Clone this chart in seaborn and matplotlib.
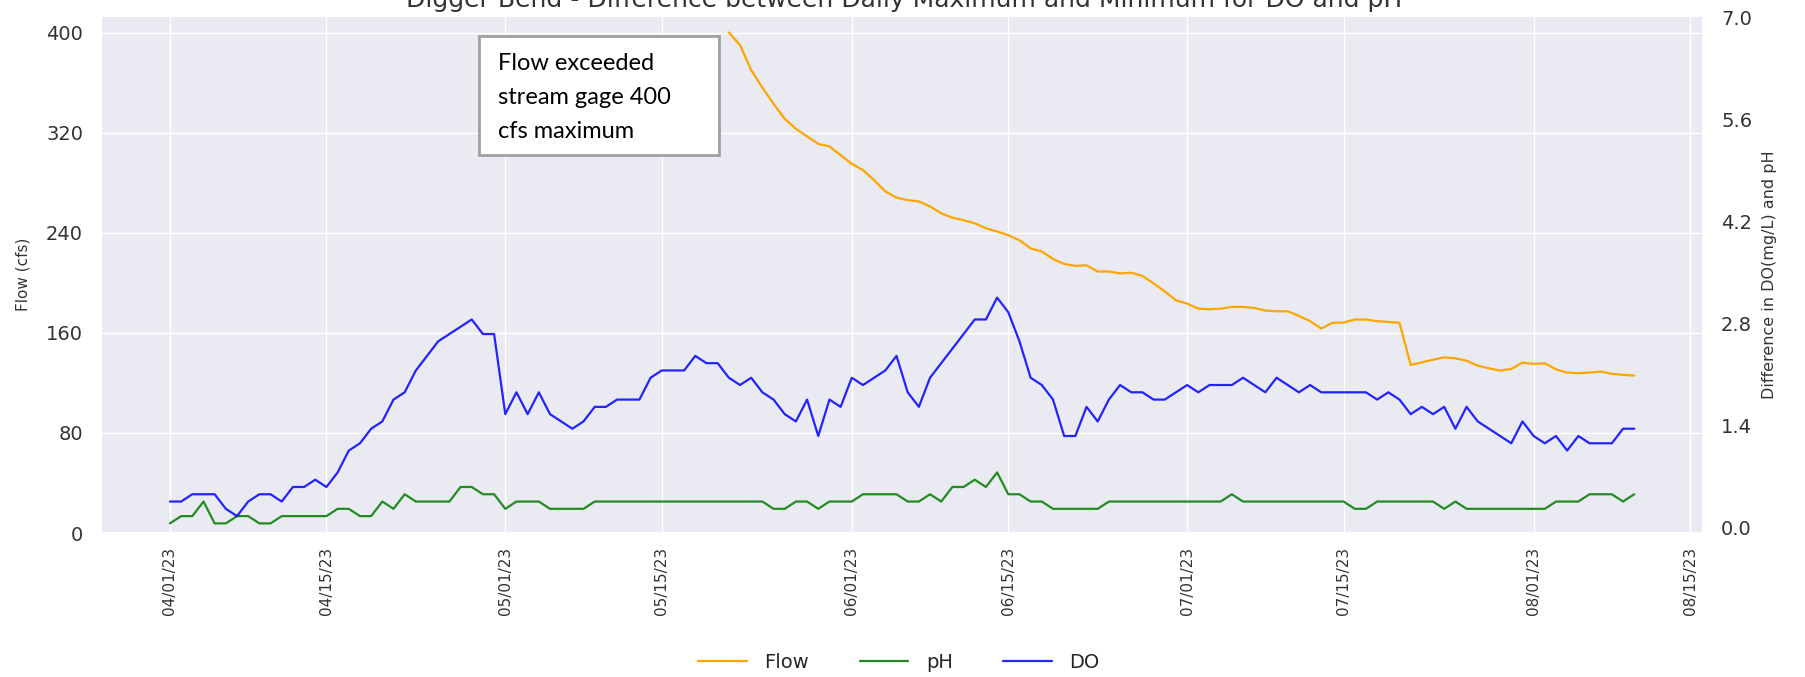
import numpy as np
import pandas as pd
import matplotlib
matplotlib.use("Agg")
import matplotlib.pyplot as plt
import matplotlib.dates as mdates
from matplotlib.patches import Rectangle
import seaborn as sns

# daily record, 04/01/23 .. 08/10/23
start_date = "2023-04-01"
n_days = 132

# flow was above the 400 cfs gage maximum for the first 50 days
flow_missing_days = 50
flow_cfs = [400, 390, 370, 356, 343, 331, 323, 317, 311, 309,
            302, 295, 290, 282, 273, 268, 266, 265, 261, 255.5,
            252, 250, 247.5, 243.5, 241, 238, 234, 227.5, 225, 219,
            215, 213.5, 214, 209, 209, 207.5, 208, 205.5, 199.5, 193,
            186, 183.3, 179.3, 178.8, 179.3, 180.7, 180.7, 179.9, 177.8, 177.2,
            177.2, 173.5, 169.3, 163.4, 168, 168.2, 170.6, 170.6, 169.3, 168.7,
            168, 134.3, 136.4, 138.5, 140.4, 139.6, 137.7, 133.8, 131.6, 129.8,
            131.1, 136.2, 135.1, 135.6, 130.8, 128.2, 127.7, 128.2, 129, 127.2,
            126.4, 125.8]

ph_diff = [0.05, 0.15, 0.15, 0.35, 0.05, 0.05, 0.15, 0.15, 0.05, 0.05,
           0.15, 0.15, 0.15, 0.15, 0.15, 0.25, 0.25, 0.15, 0.15, 0.35,
           0.25, 0.45, 0.35, 0.35, 0.35, 0.35, 0.55, 0.55, 0.45, 0.45,
           0.25, 0.35, 0.35, 0.35, 0.25, 0.25, 0.25, 0.25, 0.35, 0.35,
           0.35, 0.35, 0.35, 0.35, 0.35, 0.35, 0.35, 0.35, 0.35, 0.35,
           0.35, 0.35, 0.35, 0.35, 0.25, 0.25, 0.35, 0.35, 0.25, 0.35,
           0.35, 0.35, 0.45, 0.45, 0.45, 0.45, 0.35, 0.35, 0.45, 0.35,
           0.55, 0.55, 0.65, 0.55, 0.75, 0.45, 0.45, 0.35, 0.35, 0.25,
           0.25, 0.25, 0.25, 0.25, 0.35, 0.35, 0.35, 0.35, 0.35, 0.35,
           0.35, 0.35, 0.35, 0.35, 0.35, 0.45, 0.35, 0.35, 0.35, 0.35,
           0.35, 0.35, 0.35, 0.35, 0.35, 0.35, 0.25, 0.25, 0.35, 0.35,
           0.35, 0.35, 0.35, 0.35, 0.25, 0.35, 0.25, 0.25, 0.25, 0.25,
           0.25, 0.25, 0.25, 0.25, 0.35, 0.35, 0.35, 0.45, 0.45, 0.45,
           0.35, 0.45]

do_diff = [0.35, 0.35, 0.45, 0.45, 0.45, 0.25, 0.15, 0.35, 0.45, 0.45,
           0.35, 0.55, 0.55, 0.65, 0.55, 0.75, 1.05, 1.15, 1.35, 1.45,
           1.75, 1.85, 2.15, 2.35, 2.55, 2.65, 2.75, 2.85, 2.65, 2.65,
           1.55, 1.85, 1.55, 1.85, 1.55, 1.45, 1.35, 1.45, 1.65, 1.65,
           1.75, 1.75, 1.75, 2.05, 2.15, 2.15, 2.15, 2.35, 2.25, 2.25,
           2.05, 1.95, 2.05, 1.85, 1.75, 1.55, 1.45, 1.75, 1.25, 1.75,
           1.65, 2.05, 1.95, 2.05, 2.15, 2.35, 1.85, 1.65, 2.05, 2.25,
           2.45, 2.65, 2.85, 2.85, 3.15, 2.95, 2.55, 2.05, 1.95, 1.75,
           1.25, 1.25, 1.65, 1.45, 1.75, 1.95, 1.85, 1.85, 1.75, 1.75,
           1.85, 1.95, 1.85, 1.95, 1.95, 1.95, 2.05, 1.95, 1.85, 2.05,
           1.95, 1.85, 1.95, 1.85, 1.85, 1.85, 1.85, 1.85, 1.75, 1.85,
           1.75, 1.55, 1.65, 1.55, 1.65, 1.35, 1.65, 1.45, 1.35, 1.25,
           1.15, 1.45, 1.25, 1.15, 1.25, 1.05, 1.25, 1.15, 1.15, 1.15,
           1.35, 1.35]

flow_ticks = [0, 80, 160, 240, 320, 400]
diff_ticks = [0.0, 1.4, 2.8, 4.2, 5.6, 7.0]

title = "Digger Bend - Difference between Daily Maximum and Minimum for DO and pH"
note_lines = ["Flow exceeded", "stream gage 400", "cfs maximum"]

df = pd.DataFrame({
    "Date": pd.date_range(start_date, periods=n_days, freq="D"),
    "Flow": [np.nan] * flow_missing_days + flow_cfs,
    "pH": ph_diff,
    "DO": do_diff,
})

sns.set_theme(style="darkgrid")
plt.rcParams["font.family"] = ["DejaVu Sans"]

W, H = 1806, 677
fig, ax = plt.subplots(figsize=(W / 100, H / 100), dpi=100)
fig.subplots_adjust(left=0.056, right=0.943, top=0.976, bottom=0.2127)

sns.lineplot(data=df, x="Date", y="Flow", ax=ax, color="orange", linewidth=1.6, label="Flow")
ax2 = ax.twinx()
sns.lineplot(data=df, x="Date", y="pH", ax=ax2, color="forestgreen", linewidth=1.6, label="pH")
sns.lineplot(data=df, x="Date", y="DO", ax=ax2, color="blue", linewidth=1.6, alpha=0.85, label="DO")

ax.set_ylim(0, 413)
ax.set_yticks(flow_ticks)
ax2.set_ylim(-0.082, 7.014)
ax2.set_yticks(diff_ticks)
ax2.set_yticklabels([f"{t:.1f}" for t in diff_ticks])
ax2.grid(False)
ax.margins(x=0.047)

ax.xaxis.set_major_locator(mdates.DayLocator(bymonthday=[1, 15]))
ax.xaxis.set_major_formatter(mdates.DateFormatter("%m/%d/%y"))
ax.tick_params(axis="x", labelrotation=90, labelsize=11, length=0, pad=10, colors="#333333")
ax.tick_params(axis="y", labelsize=14, length=0, pad=13, colors="#333333")
ax2.tick_params(axis="y", labelsize=14, length=0, pad=13, colors="#333333")

ax.set_xlabel("")
ax.set_ylabel("Flow (cfs)", fontsize=11, color="#333333", labelpad=11)
ax2.set_ylabel("Difference in DO(mg/L) and pH", fontsize=11.5, color="#333333", labelpad=7)

h1, l1 = ax.get_legend_handles_labels()
h2, l2 = ax2.get_legend_handles_labels()
ax.get_legend().remove()
ax2.get_legend().remove()
fig.legend(h1 + h2, l1 + l2, loc="center", bbox_to_anchor=(899 / W, 1 - 662 / H), ncol=3,
           frameon=False, fontsize=14, handlelength=2.5, handletextpad=0.9, columnspacing=2.6)

fig.text(904 / W, 1 - 7 / H, title, ha="center", va="baseline", fontsize=18, color="#333333")

# note box about the stream gage limit
fig.add_artist(Rectangle((479 / W, 1 - 155 / H), 240 / W, 119 / H, transform=fig.transFigure,
                         facecolor="white", edgecolor="#a0a0a0", linewidth=2, zorder=5))
for i, line in enumerate(note_lines):
    fig.text(498 / W, 1 - (64 + 33.5 * i) / H, line, ha="left", va="center",
             fontsize=17, family="Lato", color="black", zorder=6)

fig.savefig("out.png", dpi=100)
